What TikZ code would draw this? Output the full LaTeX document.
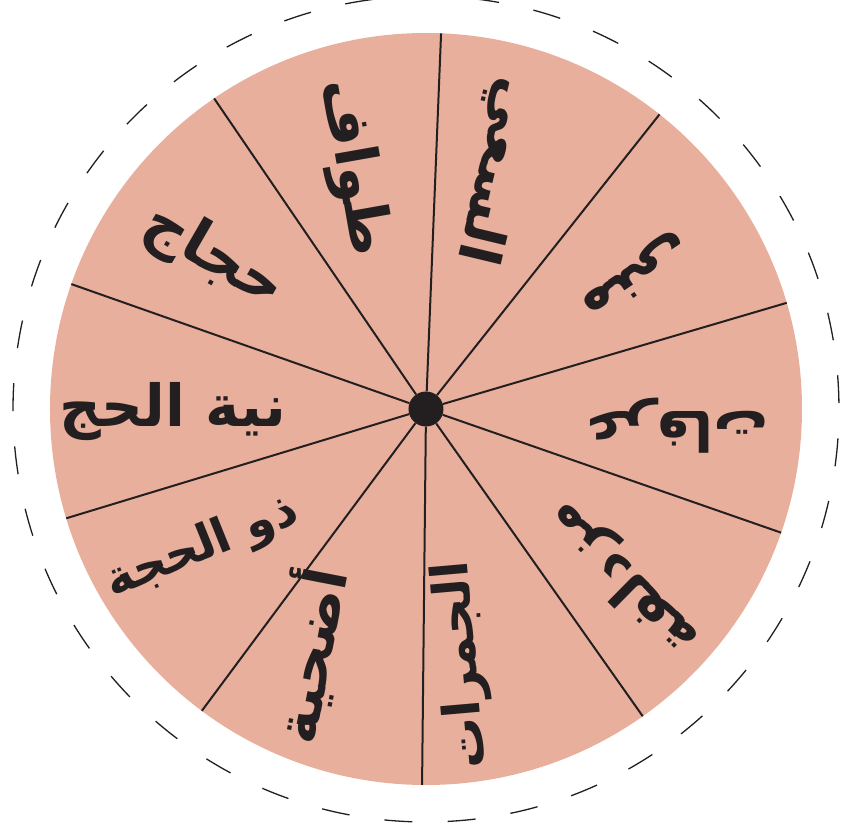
\documentclass[tikz,border=0pt]{standalone}
\usepackage{fontspec}
\usetikzlibrary{positioning}
\newfontfamily\arabicfont[Script=Arabic]{DejaVu Sans}
\TeXXeTstate=1
\definecolor{wheelpink}{HTML}{E8AF9D}
\definecolor{inkdark}{HTML}{231F20}
\tikzset{
  word/.style={font=\arabicfont\bfseries\fontsize{#1}{#1}\selectfont, text=inkdark, inner sep=0pt},
  word/.default=56,
  spoke/.style={draw=inkdark, line width=2pt},
  hub/.style={circle, fill=inkdark, minimum size=35pt, inner sep=0pt},
}
\newcommand{\arword}[1]{\beginR #1\endR}

\begin{document}
\begin{tikzpicture}[x=1pt,y=1pt]
    \useasboundingbox (-426,-419) rectangle (418,409);

    % Dashed ring
    \draw[inkdark, line width=1.3pt, dash pattern=on 28pt off 35.3pt]
        (0.8:413) arc[start angle=0.8, end angle=360.8, radius=413];

    % Wheel
    \fill[wheelpink] (0,0) circle (376);

    % Hub and spokes
    \node[hub] (hub) at (0,0) {};
    \foreach \a in {87.7,51.6,16.4,-19.2,-54.8,-90.6,-126.6,-163.1,160.6,124.3}
        \draw[spoke] (hub) -- (\a:376);

    % Words
    \node[word=57, rotate=-103.5] (saee)    at (68,238)   {\arword{السعي}};
    \node[word=60, rotate=-146]   (mina)    at (209,133)  {\arword{منى}};
    \node[word=55, rotate=180]    (arafat)  at (251,-17)  {\arword{عرفات}};
    \node[word=56, rotate=135.4]  (muzd)    at (197,-169) {\arword{مزدلفة}};
    \node[word=51, rotate=95]     (jamarat) at (37,-256)  {\arword{الجمرات}};
    \node[word=58, rotate=79]     (udhiya)  at (-118,-246) {\arword{أضحية}};
    \node[word=48, rotate=22]     (dhul)    at (-224,-139) {\arword{ذو الحجة}};
    \node[word=58]                (niyya)   at (-253,-3)  {\arword{نية الحج}};
    \node[word=60, rotate=-30]    (hujjaj)  at (-212,152) {\arword{حجاج}};
    \node[word=58, rotate=-80]    (tawaf)   at (-73,241)  {\arword{طواف}};
\end{tikzpicture}
\end{document}
